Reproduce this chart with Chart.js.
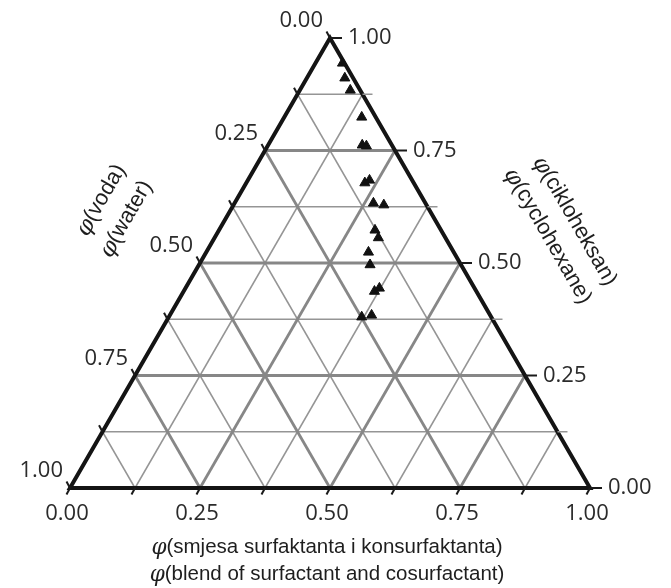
<!DOCTYPE html>
<html><head><meta charset="utf-8">
<script src="https://cdn.jsdelivr.net/npm/chart.js@4.4.1/dist/chart.umd.min.js"></script>
<style>html,body{margin:0;padding:0;background:#fff}#wrap{width:671px;height:588px;position:relative}</style>
</head><body><div id="wrap"><canvas id="c"></canvas></div>
<script>
// ---- data (ternary fractions) ----
const tickValues = [0, 0.25, 0.5, 0.75, 1];
const tickLabels = ['0.00', '0.25', '0.50', '0.75', '1.00'];
const allSteps = [0, 0.125, 0.25, 0.375, 0.5, 0.625, 0.75, 0.875, 1];
const majorSteps = [0.25, 0.5, 0.75];
const minorSteps = [0.125, 0.375, 0.625, 0.875];
const surfactant = [0.052, 0.073, 0.097, 0.149, 0.181, 0.190, 0.228, 0.234, 0.267, 0.289, 0.300, 0.315, 0.312, 0.329, 0.367, 0.373, 0.371, 0.388];
const cyclohexane = [0.944, 0.911, 0.884, 0.824, 0.762, 0.760, 0.678, 0.684, 0.633, 0.629, 0.573, 0.556, 0.524, 0.496, 0.437, 0.444, 0.380, 0.384];
const water = [0.004, 0.016, 0.019, 0.027, 0.057, 0.050, 0.094, 0.082, 0.100, 0.082, 0.127, 0.129, 0.164, 0.175, 0.196, 0.183, 0.249, 0.228];
const bottomTitle = ['φ', '(smjesa surfaktanta i konsurfaktanta)', 'φ', '(blend of surfactant and cosurfactant)'];
const leftTitle = ['φ', '(voda)', 'φ', '(water)'];
const rightTitle = ['φ', '(cikloheksan)', 'φ', '(cyclohexane)'];

const H = Math.sqrt(3) / 2;
function cart(s, c, w) { const t = s + c + w; s /= t; c /= t; return { x: s + c / 2, y: c * H }; }

function seg(p1, p2, color, width, order) {
  return { data: [p1, p2], showLine: true, pointRadius: 0, borderColor: color, borderWidth: width,
    clip: false, order: order, borderCapStyle: 'butt' };
}
const datasets = [];
datasets.push({
  data: surfactant.map((s, i) => cart(s, cyclohexane[i], water[i])),
  pointStyle: 'triangle', pointRadius: 5.8, backgroundColor: '#111', borderColor: '#111', borderWidth: 1,
  showLine: false, clip: false, order: 0
});
datasets.push({
  data: [cart(0,0,1), cart(1,0,0), cart(0,1,0), cart(0,0,1), cart(1,0,0)],
  showLine: true, pointRadius: 0, borderColor: '#141414', borderWidth: 4, borderJoinStyle: 'miter',
  clip: false, order: 1
});
function gridLines(steps, color, width, order) {
  steps.forEach(v => {
    datasets.push(seg(cart(0, v, 1 - v), cart(1 - v, v, 0), color, width, order));
    datasets.push(seg(cart(v, 0, 1 - v), cart(v, 1 - v, 0), color, width, order));
    datasets.push(seg(cart(0, 1 - v, v), cart(1 - v, 0, v), color, width, order));
  });
}
gridLines(majorSteps, '#878787', 2.8, 2);
gridLines(minorSteps, '#959595', 1.5, 3);

const FONT = '"Liberation Sans", Arial, sans-serif';
const TICKFONT = '"Open Sans", "Liberation Sans", sans-serif';
function drawPhiText(ctx, phi, rest, x, y, align, size) {
  const fPhi = 'italic ' + (size + 1) + 'px "DejaVu Serif", serif';
  const fRest = size + 'px ' + FONT;
  ctx.font = fPhi; const w1 = ctx.measureText(phi).width;
  ctx.font = fRest; const w2 = ctx.measureText(rest).width;
  let x0 = x;
  if (align === 'center') x0 = x - (w1 + w2) / 2;
  ctx.textAlign = 'left'; ctx.textBaseline = 'middle';
  ctx.font = fPhi; ctx.fillText(phi, x0, y + 1);
  ctx.font = fRest; ctx.fillText(rest, x0 + w1, y);
}

const ternaryPlugin = {
  id: 'ternary',
  afterDraw(chart) {
    const ctx = chart.ctx, xs = chart.scales.x, ys = chart.scales.y;
    const P = p => ({ x: xs.getPixelForValue(p.x), y: ys.getPixelForValue(p.y) });
    ctx.save();
    ctx.lineCap = 'butt';
    // ticks
    allSteps.forEach(v => {
      const major = Math.abs(v * 4 - Math.round(v * 4)) < 1e-9;
      let p = P(cart(v, 0, 1 - v));
      ctx.strokeStyle = '#1a1a1a'; ctx.lineWidth = 2;
      ctx.beginPath(); ctx.moveTo(p.x, p.y); ctx.lineTo(p.x - 3.5, p.y + 6.5); ctx.stroke();
      p = P(cart(0, 1 - v, v));
      ctx.beginPath(); ctx.moveTo(p.x, p.y); ctx.lineTo(p.x - 3.5, p.y - 6.5); ctx.stroke();
      p = P(cart(1 - v, v, 0));
      ctx.strokeStyle = major ? '#1a1a1a' : '#959595'; ctx.lineWidth = major ? 2 : 1.5;
      ctx.beginPath(); ctx.moveTo(p.x, p.y); ctx.lineTo(p.x + (major ? 12 : 10), p.y); ctx.stroke();
    });
    // tick labels
    ctx.fillStyle = '#2b2b2b';
    ctx.font = '22px ' + TICKFONT;
    tickValues.forEach((v, i) => {
      let p = P(cart(v, 0, 1 - v));
      ctx.textAlign = 'center'; ctx.textBaseline = 'middle';
      ctx.fillText(tickLabels[i], p.x - 3, p.y + 26);
      p = P(cart(0, 1 - v, v));
      ctx.textAlign = 'right';
      ctx.fillText(tickLabels[i], p.x - 7, p.y - 17);
      p = P(cart(1 - v, v, 0));
      ctx.textAlign = 'left';
      ctx.fillText(tickLabels[i], p.x + 18, p.y);
    });
    // titles
    ctx.fillStyle = '#1e1e1e';
    const mid = P(cart(0.5, 0, 0.5));
    drawPhiText(ctx, bottomTitle[0], bottomTitle[1], mid.x - 3, 547, 'center', 20.5);
    drawPhiText(ctx, bottomTitle[2], bottomTitle[3], mid.x - 3, 574, 'center', 20.5);
    ctx.save(); ctx.translate(101, 200); ctx.rotate(-Math.PI / 3);
    drawPhiText(ctx, leftTitle[0], leftTitle[1], 0, 0, 'center', 22);
    ctx.restore();
    ctx.save(); ctx.translate(126, 219); ctx.rotate(-Math.PI / 3);
    drawPhiText(ctx, leftTitle[2], leftTitle[3], 0, 0, 'center', 22);
    ctx.restore();
    ctx.save(); ctx.translate(575, 221); ctx.rotate(Math.PI / 3);
    drawPhiText(ctx, rightTitle[0], rightTitle[1], 0, 0, 'center', 22);
    ctx.restore();
    ctx.save(); ctx.translate(548, 236); ctx.rotate(Math.PI / 3);
    drawPhiText(ctx, rightTitle[2], rightTitle[3], 0, 0, 'center', 22);
    ctx.restore();
    ctx.restore();
  }
};

new Chart(document.getElementById('c'), {
  type: 'scatter',
  data: { datasets: datasets },
  options: {
    responsive: true, maintainAspectRatio: false, animation: false, events: [],
    layout: { padding: { left: 70, right: 81, top: 38, bottom: 100 } },
    scales: {
      x: { type: 'linear', min: 0, max: 1, display: false },
      y: { type: 'linear', min: 0, max: H, display: false }
    },
    plugins: { legend: { display: false }, tooltip: { enabled: false } }
  },
  plugins: [ternaryPlugin]
});
</script>
</body></html>
